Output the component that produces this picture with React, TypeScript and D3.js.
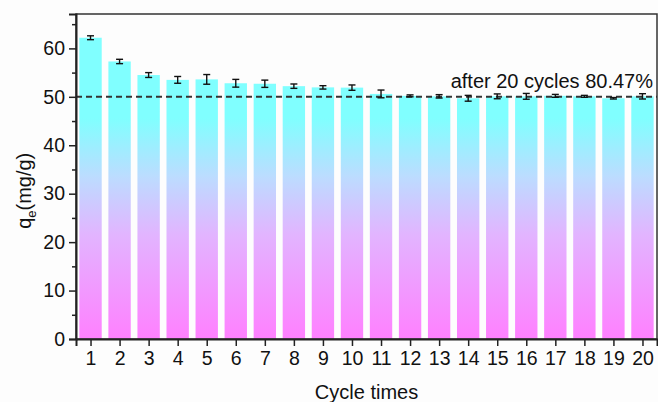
import React, { useRef, useEffect } from 'react'
import * as d3 from 'd3'

const cycles = [1, 2, 3, 4, 5, 6, 7, 8, 9, 10, 11, 12, 13, 14, 15, 16, 17, 18, 19, 20]
const qe = [62.2, 57.3, 54.5, 53.5, 53.6, 52.8, 52.7, 52.2, 51.95, 51.9, 50.6, 50.2, 50.1, 49.7, 50.1, 50.1, 50.2, 50.1, 49.7, 50.1]
const errs = [0.4, 0.45, 0.5, 0.7, 1.0, 0.8, 0.75, 0.45, 0.35, 0.55, 0.8, 0.2, 0.35, 0.6, 0.5, 0.6, 0.3, 0.2, 0.15, 0.55]
const yTicks = [0, 10, 20, 30, 40, 50, 60]
const yMinorTicks = [5, 15, 25, 35, 45, 55, 65]
const refLevel = 50
const note = 'after 20 cycles 80.47%'

export default function App() {
  const svgRef = useRef<SVGSVGElement>(null)

  useEffect(() => {
    const width = 658
    const height = 402
    const margin = { top: 14, right: 1, bottom: 63, left: 76 }
    const font = 'Arial, "Liberation Sans", sans-serif'

    const svg = d3.select(svgRef.current)
    svg.selectAll('*').remove()
    svg.attr('viewBox', `0 0 ${width} ${height}`)

    const x = d3.scaleLinear().domain([0.5, 20.5]).range([margin.left, width - margin.right])
    const y = d3.scaleLinear().domain([0, 67.1]).range([height - margin.bottom, margin.top])

    // gradient fixed to the plot area
    const grad = svg.append('defs').append('linearGradient')
      .attr('id', 'barGrad')
      .attr('gradientUnits', 'userSpaceOnUse')
      .attr('x1', 0).attr('x2', 0)
      .attr('y1', y(0)).attr('y2', y(67))
    grad.append('stop').attr('offset', 0).attr('stop-color', '#ff80ff')
    grad.append('stop').attr('offset', 0.32).attr('stop-color', '#e2b4ff')
    grad.append('stop').attr('offset', 0.5).attr('stop-color', '#bcdcff')
    grad.append('stop').attr('offset', 0.68).attr('stop-color', '#80ffff')
    grad.append('stop').attr('offset', 1).attr('stop-color', '#80ffff')

    svg.append('rect').attr('width', width).attr('height', height).attr('fill', '#fdfdfd')

    const step = x(2) - x(1)
    const bw = step * 0.77

    svg.append('g').selectAll('rect')
      .data(cycles)
      .join('rect')
      .attr('x', (d) => x(d) - bw / 2)
      .attr('width', bw)
      .attr('y', (d, i) => y(qe[i]))
      .attr('height', (d, i) => y(0) - y(qe[i]))
      .attr('fill', 'url(#barGrad)')

    // dashed reference line
    svg.append('line')
      .attr('x1', margin.left).attr('x2', width - margin.right)
      .attr('y1', y(refLevel)).attr('y2', y(refLevel))
      .attr('stroke', '#333').attr('stroke-width', 2)
      .attr('stroke-dasharray', '6,4')

    // error bars
    const eb = svg.append('g').attr('stroke', '#111').attr('stroke-width', 1.4)
    cycles.forEach((c, i) => {
      const cx = x(c)
      const top = y(qe[i] + errs[i])
      const bot = y(qe[i] - errs[i])
      eb.append('line').attr('x1', cx).attr('x2', cx).attr('y1', top).attr('y2', bot)
      eb.append('line').attr('x1', cx - 3.5).attr('x2', cx + 3.5).attr('y1', top).attr('y2', top)
      eb.append('line').attr('x1', cx - 3.5).attr('x2', cx + 3.5).attr('y1', bot).attr('y2', bot)
    })

    // frame
    svg.append('rect')
      .attr('x', margin.left).attr('y', margin.top)
      .attr('width', width - margin.right - margin.left)
      .attr('height', y(0) - margin.top)
      .attr('fill', 'none').attr('stroke', '#333').attr('stroke-width', 1.5)

    // y axis
    const yAxis = svg.append('g')
      .attr('transform', `translate(${margin.left},0)`)
      .call(d3.axisLeft(y).tickValues(yTicks).tickSize(7).tickPadding(4))
    yAxis.select('.domain').attr('stroke', '#222').attr('stroke-width', 2)
    yAxis.selectAll('.tick line').attr('stroke', '#222').attr('stroke-width', 1.5)
    yAxis.selectAll('text').attr('font-size', 19.5).attr('font-family', font).attr('fill', '#111')
    svg.append('g')
      .attr('transform', `translate(${margin.left},0)`)
      .call(d3.axisLeft(y).tickValues(yMinorTicks).tickSize(4).tickFormat(() => ''))
      .call((g) => g.select('.domain').remove())
      .selectAll('.tick line').attr('stroke', '#222').attr('stroke-width', 1.5)

    // x axis
    const xAxis = svg.append('g')
      .attr('transform', `translate(0,${y(0)})`)
      .call(d3.axisBottom(x).tickValues(cycles).tickFormat(d3.format('d')).tickSize(7).tickPadding(5))
    xAxis.select('.domain').attr('stroke', '#222').attr('stroke-width', 2)
    xAxis.selectAll('.tick line').attr('stroke', '#222').attr('stroke-width', 1.5)
    xAxis.selectAll('text').attr('font-size', 19.5).attr('font-family', font).attr('fill', '#111')

    // annotation
    svg.append('text')
      .attr('x', width - 5).attr('y', y(refLevel) - 9)
      .attr('text-anchor', 'end')
      .attr('font-size', 20).attr('font-family', font).attr('fill', '#111')
      .text(note)

    // axis titles
    svg.append('text')
      .attr('x', (margin.left + width - margin.right) / 2)
      .attr('y', 399)
      .attr('text-anchor', 'middle')
      .attr('font-size', 20).attr('font-family', font).attr('fill', '#111')
      .text('Cycle times')

    const yt = svg.append('text')
      .attr('transform', `translate(31,${y(30.6)}) rotate(-90)`)
      .attr('text-anchor', 'middle')
      .attr('font-size', 20).attr('font-family', font).attr('fill', '#111')
    yt.append('tspan').text('q')
    yt.append('tspan').attr('font-size', 13).attr('dy', 5).text('e')
    yt.append('tspan').attr('dy', -5).text('(mg/g)')
  }, [])

  return (
    <svg
      ref={svgRef}
      width={658}
      height={402}
      style={{ position: 'absolute', left: 0, top: 0, display: 'block' }}
    />
  )
}
